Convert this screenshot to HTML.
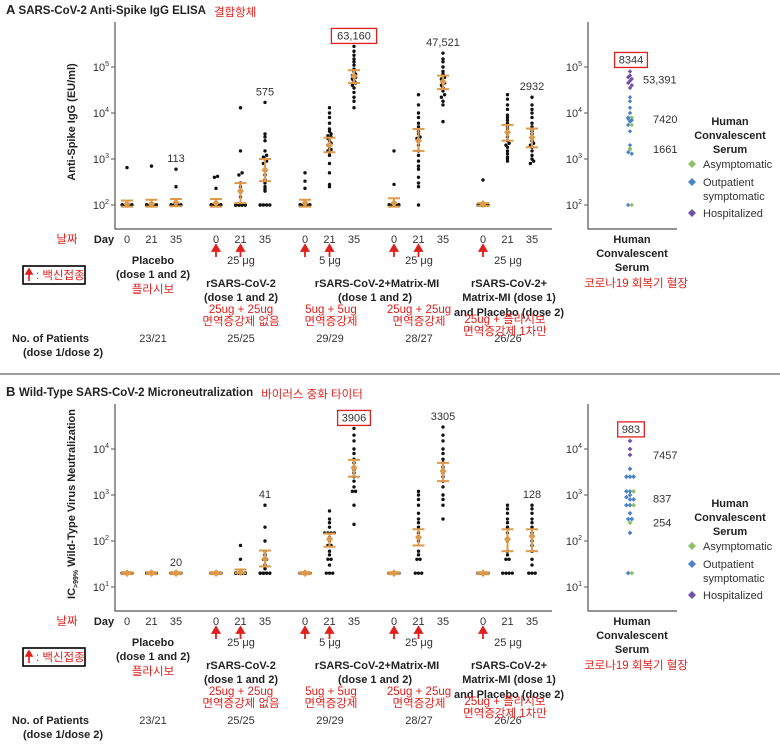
<!DOCTYPE html>
<html><head><meta charset="utf-8">
<style>
html,body{margin:0;padding:0;background:#fff;}
svg{display:block;font-family:"Liberation Sans","Noto Sans CJK KR",sans-serif;}
.t{font-size:11px;fill:#333;}
.b{font-size:11px;fill:#222;font-weight:bold;}
.r{font-size:11.5px;fill:#e0201c;}
</style></head>
<body>
<svg id="chart" width="780" height="746" viewBox="0 0 780 746"></svg>
<script>
function rep(v,n){var a=[];for(var i=0;i<n;i++)a.push(v);return a;}
// ---------- data: panel A (Anti-spike IgG, EU/ml) ----------
var days=["0","21","35"];
var groupNamesA=["Placebo","rSARS-CoV-2","rSARS-CoV-2+Matrix-MI 5ug","rSARS-CoV-2+Matrix-MI 25ug","rSARS-CoV-2+Matrix-MI/Placebo"];
var igg=[
 rep(100,20).concat([650]),
 rep(100,19).concat([700]),
 rep(100,18).concat([250,600]),
 rep(100,20).concat([230,400,420]),
 rep(100,14).concat([150,200,250,300,450,500,1500,13000]),
 rep(100,5).concat([200,220,250,300,350,450,600,800,900,1000,1100,1200,1500,2500,3000,3500,17000]),
 rep(100,22).concat([230,330,500]),
 [250,280,500,800,1200,1400,1500,1600,1700,2000,2200,2500,2800,3000,3200,3500,4000,4500,6000,8000,10000,13000],
 [13000,18000,22000,28000,35000,40000,45000,50000,55000,60000,65000,70000,80000,90000,110000,130000,150000,180000,220000,280000],
 rep(100,20).concat([280,1500]),
 [100,250,300,400,600,700,900,1200,1500,2000,2500,2800,3000,3500,4000,5000,6000,8000,10000,15000,25000],
 [6500,15000,18000,22000,25000,30000,35000,40000,45000,50000,55000,60000,70000,80000,100000,130000,150000,200000],
 rep(100,20).concat([350]),
 [900,1000,1100,1300,1500,1800,2000,2200,2500,3000,3500,4000,4500,5000,6000,7000,8000,9000,12000,15000,20000,25000],
 [800,900,1000,1200,1500,1800,2000,2200,2500,3000,3500,4000,4500,5000,6000,8000,10000,12000,15000,22000]
];
var iggGmt=[105,105,113,110,200,575,110,2000,63160,110,2500,47521,105,3800,2932];
var iggLo=[92,92,94,92,110,330,92,1400,45000,92,1500,33000,96,2500,1800];
var iggHi=[125,130,135,135,300,1000,130,2900,85000,140,4500,65000,110,5500,4600];
var iggLabels=["","","113","","","575","","","63,160","","","47,521","","","2932"];
var convA=[80000,65000,60000,55000,50000,45000,40000,35000,22000,18000,13000,10000,8000,7500,7000,6500,5500,4000,2000,1400,1300,100,8000,5500,1700,1600,100];
var convACat=["h","h","h","h","h","h","h","h","o","o","o","o","o","o","o","o","o","o","o","o","o","o","a","a","a","a","a"];
var convALabels=[["8344",8344,"box"],["53,391",53391,""],["7420",7420,""],["1661",1661,""]];
// ---------- data: panel B (IC>99% neutralization titer) ----------
var neut=[
 rep(20,21),rep(20,21),rep(20,21),
 rep(20,25),
 rep(20,22).concat([40,80]),
 rep(20,10).concat([25,30,40,40,50,60,100,200,600]),
 rep(20,29),
 [20,20,20,30,40,40,50,60,80,80,100,120,150,150,150,150,200,250,300,450],
 [230,600,1200,1200,1500,2000,2500,3000,3500,4000,5000,6000,8000,10000,15000,20000,28000],
 rep(20,28),
 [20,20,20,40,40,50,60,100,150,200,250,300,400,600,800,1000,1200],
 [300,600,800,1000,1500,2000,2500,3000,4000,5000,6000,8000,10000,15000,20000,30000],
 rep(20,26),
 [20,20,20,20,40,40,50,60,100,150,200,250,300,400,500,600],
 [20,20,20,30,40,60,80,100,150,200,250,300,400,500,600]
];
var neutGmt=[20,20,20,20,21,41,20,110,3906,20,120,3305,20,110,128];
var neutLo=[19,19,19,19,20,28,19,75,2500,19,80,2000,19,60,60];
var neutHi=[21,21,21,21,24,62,21,145,5800,21,180,5000,21,180,180];
var neutLabels=["","","20","","","41","","","3906","","","3305","","","128"];
var convB=[15000,10000,7457,3700,2500,2500,2500,1200,1200,1000,900,800,800,600,600,400,300,300,150,20,1200,600,250,20];
var convBCat=["h","h","h","o","o","o","o","o","o","o","o","o","o","o","o","o","o","o","o","o","a","a","a","a"];
var convBLabels=[["983",983,"box"],["7457",7457,""],["837",837,""],["254",254,""]];

var NS="http://www.w3.org/2000/svg";
var svg=document.getElementById("chart");
function el(tag,attrs,parent,text){var e=document.createElementNS(NS,tag);for(var k in attrs)e.setAttribute(k,attrs[k]);if(text!==undefined)e.textContent=text;(parent||svg).appendChild(e);return e;}
function txt(x,y,s,cls,anchor,name,parent){var e=el("text",{x:x,y:y,"class":cls,"text-anchor":anchor||"middle"},parent,s);


return e;}
var ORANGE="#dc9a4c";
var catColor={a:"#8cc264",o:"#4d82c8",h:"#7050a8"};
function colX(i){var g=Math.floor(i/3),d=i%3;return 127+g*89+d*24.5;}

function drawPanel(off,minExp,data,gmt,lo,hi,labels,conv,convCat,convLabels,letter,title,kor,ytitle,pname){
  var g=el("g",{},svg);
  
  
  function y(v){return off+205-(Math.log10(v)-minExp)*46;}
  // title
  var t=el("text",{x:6,y:off+14,"font-size":"11.5","font-weight":"bold",fill:"#222"},g);
  
  
  el("tspan",{"font-size":"13"},t,letter+"  ");el("tspan",{},t,title);
  var tw=t.getComputedTextLength();
  var kt=txt(6+tw+8,off+16,kor,"r","start","panel-korean-title",g);kt.setAttribute("font-size","16");
  // axes
  var ax=el("path",{d:"M115 "+(off+22)+" V"+(off+229)+" H552",stroke:"#555","stroke-width":"1.2",fill:"none"},g);
  
  var ax2=el("path",{d:"M588 "+(off+22)+" V"+(off+229)+" H677",stroke:"#555","stroke-width":"1.2",fill:"none"},g);
  
  for(var e=minExp;e<=minExp+3;e++){
    var yy=y(Math.pow(10,e));
    [115,588].forEach(function(x0){
      el("line",{x1:x0-4,x2:x0,y1:yy,y2:yy,stroke:"#555"},g);
      var tl=el("text",{x:x0-6,y:yy+4,"class":"t","text-anchor":"end"},g);
      
      el("tspan",{},tl,"10");el("tspan",{"font-size":"7",dy:"-5"},tl,String(e));
    });
  }
  var yt=txt(0,0,"","b","middle","y-axis-title",g);
  yt.setAttribute("transform","translate(75,"+(off+122)+") rotate(-90)");
  if(ytitle==="IC"){el("tspan",{},yt,"IC");el("tspan",{"font-size":"7",dy:"3"},yt,">99%");el("tspan",{dy:"-3"},yt," Wild-Type Virus Neutralization");}
  else yt.textContent=ytitle;
  // dots
  data.forEach(function(vals,i){
    var cx=colX(i);var bins={};
    vals.slice().sort(function(a,b){return a-b;}).forEach(function(v){var k=Math.round(y(v)/3);(bins[k]=bins[k]||[]).push(v);});
    for(var k in bins){var arr=bins[k];var n=Math.min(arr.length,4);arr.forEach(function(v,j){
      var d=el("circle",{cx:cx+((j%4)-(n-1)/2)*3.2,cy:y(v),r:1.7,fill:"#111"},g);
      
      
    });}
    // error bar
    var eb=el("g",{stroke:ORANGE,"stroke-width":"2",fill:"none"},g);
    
    
    el("line",{x1:cx,x2:cx,y1:y(lo[i]),y2:y(hi[i])},eb);
    el("line",{x1:cx-6,x2:cx+6,y1:y(lo[i]),y2:y(lo[i])},eb);
    el("line",{x1:cx-6,x2:cx+6,y1:y(hi[i]),y2:y(hi[i])},eb);
    var gy=y(gmt[i]);
    var dm=el("path",{d:"M"+cx+" "+(gy-4)+" L"+(cx+3.5)+" "+gy+" L"+cx+" "+(gy+4)+" L"+(cx-3.5)+" "+gy+"Z",fill:ORANGE},g);
    
    
    if(labels[i]){
      var top=Math.min.apply(null,vals.map(y));
      var ly=top-7;
      txt(cx,ly,labels[i],"t","middle","gmt-value-label",g);
      if(i===8){var w=labels[i].length*6.2+8;var bx=el("rect",{x:cx-w/2,y:ly-11,width:w,height:15,fill:"none",stroke:"#e0201c","stroke-width":"1.3"},g);
        }
    }
  });
  // convalescent
  var cb={};
  conv.forEach(function(v,i){var k=Math.round(y(v)/3);(cb[k]=cb[k]||[]).push(i);});
  for(var k in cb){var arr=cb[k];arr.forEach(function(idx,j){
    var cx=630+(j-(arr.length-1)/2)*3.6,cy=y(conv[idx]);
    var s=conv.length>25?2.2:2.4;
    var d=el("path",{d:"M"+cx+" "+(cy-s)+" L"+(cx+s)+" "+cy+" L"+cx+" "+(cy+s)+" L"+(cx-s)+" "+cy+"Z",fill:catColor[convCat[idx]]},g);
    
    
  });}
  convLabels.forEach(function(L){
    if(L[2]==="box"){
      var top=Math.min.apply(null,conv.map(y));var ly=top-8;
      txt(631,ly,L[0],"t","middle","convalescent-median-label",g);
      var w=L[0].length*6.2+8;var bx=el("rect",{x:631-w/2,y:ly-11,width:w,height:15,fill:"none",stroke:"#e0201c","stroke-width":"1.3"},g);
      
    } else txt(643+(L[0].length>4?0:10),y(L[1])+4,L[0],"t","start","convalescent-gmt-label",g);
  });
  // legend
  var lg=el("g",{},g);
  txt(730,off+125,"Human","b","middle","legend-title",lg);
  txt(730,off+139,"Convalescent","b","middle","legend-title",lg);
  txt(730,off+153,"Serum","b","middle","legend-title",lg);
  [["a","Asymptomatic",168],["o","Outpatient",186],["h","Hospitalized",217]].forEach(function(r){
    var yy=off+r[2];
    var d=el("path",{d:"M692 "+(yy-8)+" l4 4 l-4 4 l-4 -4Z",fill:catColor[r[0]]},lg);
    
    txt(703,yy,r[1],"t","start","legend-entry",lg);
  });
  txt(703,off+200,"symptomatic","t","start","legend-entry",lg);
  // x labels
  txt(67,off+243,"날짜","r","middle","day-label-korean",g);
  txt(104,off+243,"Day","b","middle","day-label",g);
  for(var i=0;i<15;i++){
    txt(colX(i),off+243,days[i%3],"t","middle","day-tick",g);
  }
  [3,4,6,7,9,10,12].forEach(function(i){
    var cx=colX(i);var a=el("path",{d:"M"+cx+" "+(off+257)+" V"+(off+250)+" M"+(cx-3.5)+" "+(off+251)+" L"+cx+" "+(off+245)+" L"+(cx+3.5)+" "+(off+251)+"Z",stroke:"#e0201c",fill:"#e0201c","stroke-width":"1.8"},g);
    
  });
  [["25 μg",241],["5 μg",330],["25 μg",419],["25 μg",508]].forEach(function(d){txt(d[1],off+264,d[0],"t","middle","dose-label",g);});
  var kb=el("rect",{x:23,y:off+266,width:62,height:18,fill:"none",stroke:"#000","stroke-width":"1.6"},g);
  
  el("path",{d:"M29 "+(off+281)+" V"+(off+273)+" M26 "+(off+274)+" L29 "+(off+269)+" L32 "+(off+274)+"Z",stroke:"#e0201c",fill:"#e0201c","stroke-width":"1.6"},g);
  txt(36,off+279,": 백신접종","r","start","arrow-key-label",g);
  txt(153,off+264,"Placebo","b","middle","group-label",g);
  txt(153,off+278,"(dose 1 and 2)","b","middle","group-label",g);
  txt(153,off+293,"플라시보","r","middle","group-label-korean",g);
  txt(241,off+287,"rSARS-CoV-2","b","middle","group-label",g);
  txt(241,off+301,"(dose 1 and 2)","b","middle","group-label",g);
  txt(241,off+313,"25ug + 25ug","r","middle","group-label-korean",g);
  txt(241,off+325,"면역증강제 없음","r","middle","group-label-korean",g);
  txt(377,off+287,"rSARS-CoV-2+Matrix-MI","b","middle","group-label",g);
  txt(375,off+301,"(dose 1 and 2)","b","middle","group-label",g);
  txt(331,off+313,"5ug + 5ug","r","middle","group-label-korean",g);
  txt(331,off+325,"면역증강제","r","middle","group-label-korean",g);
  txt(419,off+313,"25ug + 25ug","r","middle","group-label-korean",g);
  txt(419,off+325,"면역증강제","r","middle","group-label-korean",g);
  txt(509,off+287,"rSARS-CoV-2+","b","middle","group-label",g);
  txt(509,off+301,"Matrix-MI (dose 1)","b","middle","group-label",g);
  txt(509,off+316,"and Placebo (dose 2)","b","middle","group-label",g);
  txt(508,off+342,"26/26","t","middle","patient-count",g);
  txt(505,off+323,"25ug + 플라시보","r","middle","group-label-korean",g);
  txt(505,off+335,"면역증강제 1차만","r","middle","group-label-korean",g);
  txt(632,off+243,"Human","b","middle","convalescent-label",g);
  txt(632,off+257,"Convalescent","b","middle","convalescent-label",g);
  txt(632,off+271,"Serum","b","middle","convalescent-label",g);
  txt(636,off+287,"코로나19 회복기 혈장","r","middle","convalescent-label-korean",g);
  txt(12,off+342,"No. of Patients","b","start","patients-label",g);
  txt(23,off+356,"(dose 1/dose 2)","b","start","patients-label",g);
  [["23/21",153],["25/25",241],["29/29",330],["28/27",419]].forEach(function(d){txt(d[1],off+342,d[0],"t","middle","patient-count",g);});
}
drawPanel(0,2,igg,iggGmt,iggLo,iggHi,iggLabels,convA,convACat,convALabels,"A","SARS-CoV-2 Anti-Spike IgG ELISA","결합항체","Anti-Spike IgG (EU/ml)","panel-a");
var sep=el("line",{x1:0,x2:780,y1:374,y2:374,stroke:"#666","stroke-width":"1.2"});


drawPanel(382,1,neut,neutGmt,neutLo,neutHi,neutLabels,convB,convBCat,convBLabels,"B","Wild-Type SARS-CoV-2 Microneutralization","바이러스 중화 타이터","IC","panel-b");
</script>
</body></html>
